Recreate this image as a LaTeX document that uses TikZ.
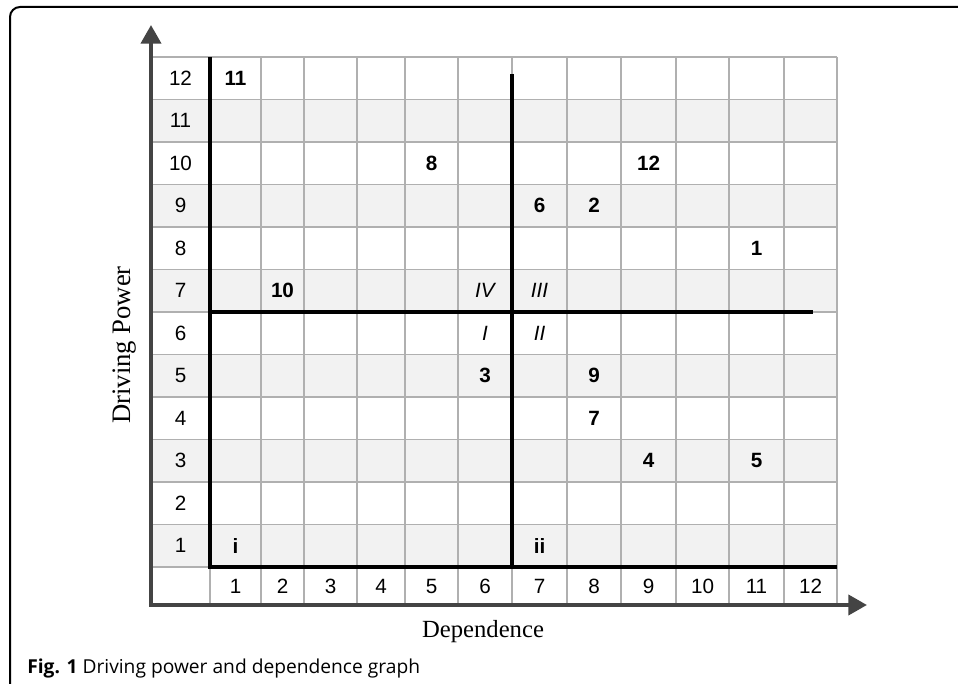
\documentclass[tikz,border=0pt]{standalone}
\usepackage{fontspec}
\setmainfont{Liberation Sans}
\newfontfamily\axisfont{Liberation Serif}
\newfontfamily\capfont{Open Sans}
\usetikzlibrary{arrows.meta}
\definecolor{gridgray}{HTML}{B0B0B0}
\definecolor{rowshade}{HTML}{F2F2F2}
\definecolor{axisgray}{HTML}{444444}
\begin{document}
\begin{tikzpicture}[x=0.75pt,y=-0.75pt,
  gridline/.style={draw=gridgray,line width=1.1pt},
  thick line/.style={draw=black,line width=3pt},
  axisline/.style={draw=axisgray,line width=3pt,line join=miter,
     arrows={Triangle[length=14pt,width=15pt]-Triangle[length=14pt,width=15pt]}},
  lab/.style={font=\fontsize{15.5}{17}\selectfont,inner sep=0pt},
  val/.style={font=\fontsize{15.5}{17}\selectfont\bfseries,inner sep=0pt},
  quad/.style={font=\fontsize{15.5}{17}\selectfont\itshape,inner sep=0pt},
  frameline/.style={draw=black,line width=1.5pt,rounded corners=7.5pt}]
\useasboundingbox (0,0) rectangle (958,684);
% frame
\coordinate (fa) at (10,684);
\coordinate (fb) at (10,7);
\coordinate (fc) at (958,7);
\draw[frameline] (fa) -- (fb) -- (fc);
% shaded rows (11,9,7,5,3,1)
\foreach \k in {1,3,5,7,9,11}
  \fill[rowshade] (151,{57+42.5*\k}) rectangle (837,{57+42.5*(\k+1)});
% grid lines
\foreach \x in {210,261,304,357,405,458,512,567,621,676,729,784,837}
  \draw[gridline] (\x,57) -- (\x,605);
\foreach \k in {0,...,12}
  \draw[gridline] (151,{57+42.5*\k}) -- (837,{57+42.5*\k});
% axes
\coordinate (O) at (151,605);
\coordinate (ytip) at (151,25);
\coordinate (xtip) at (867,605);
\draw[axisline] (ytip) -- (O) -- (xtip);
% thick dividing lines
\coordinate (c1) at (210,57);
\coordinate (c2) at (210,567);
\coordinate (c3) at (837,567);
\coordinate (h1) at (210,312);
\coordinate (h2) at (813,312);
\coordinate (v1) at (512,74);
\coordinate (v2) at (512,567);
\draw[thick line] (c1) -- (c2) -- (c3);
\draw[thick line] (h1) -- (h2);
\draw[thick line] (v1) -- (v2);
% row labels
\foreach \r in {1,...,12}
  \node[lab] (r\r) at (180.5,{78.25+42.5*(12-\r)}) {\r};
% column labels
\foreach \c/\x in {1/235.5,2/282.5,3/330.5,4/381,5/431.5,6/485,7/539.5,8/594,9/648.5,10/702.5,11/756.5,12/810.5}
  \node[lab] (col\c) at (\x,586) {\c};
% cell values
\node[val] (n11) at (235.5,78.25) {11};
\node[val] (n8) at (431.5,163.25) {8};
\node[val] (n12) at (648.5,163.25) {12};
\node[val] (n6) at (539.5,205.75) {6};
\node[val] (n2) at (594,205.75) {2};
\node[val] (n1) at (756.5,248.25) {1};
\node[val] (n10) at (282.5,290.75) {10};
\node[quad] (qIV) at (485,290.75) {IV};
\node[quad] (qIII) at (539.5,290.75) {III};
\node[quad] (qI) at (485,333.25) {I};
\node[quad] (qII) at (539.5,333.25) {II};
\node[val] (n3) at (485,375.75) {3};
\node[val] (n9) at (594,375.75) {9};
\node[val] (n7) at (594,418.25) {7};
\node[val] (n4) at (648.5,460.75) {4};
\node[val] (n5) at (756.5,460.75) {5};
\node[val] (ni) at (235.5,545.75) {i};
\node[val] (nii) at (539.5,545.75) {ii};
% axis titles
\node[font=\axisfont\fontsize{20}{24}\selectfont,rotate=90] (ylab) at (125,345) {Driving Power};
\node[font=\axisfont\fontsize{18.5}{22}\selectfont] (xlab) at (483,632) {Dependence};
% caption
\node[font=\capfont\fontsize{14.4}{17}\selectfont,anchor=base west,inner sep=0pt] (cap) at (27,673) {\textbf{Fig. 1} Driving power and dependence graph};
\end{tikzpicture}
\end{document}
